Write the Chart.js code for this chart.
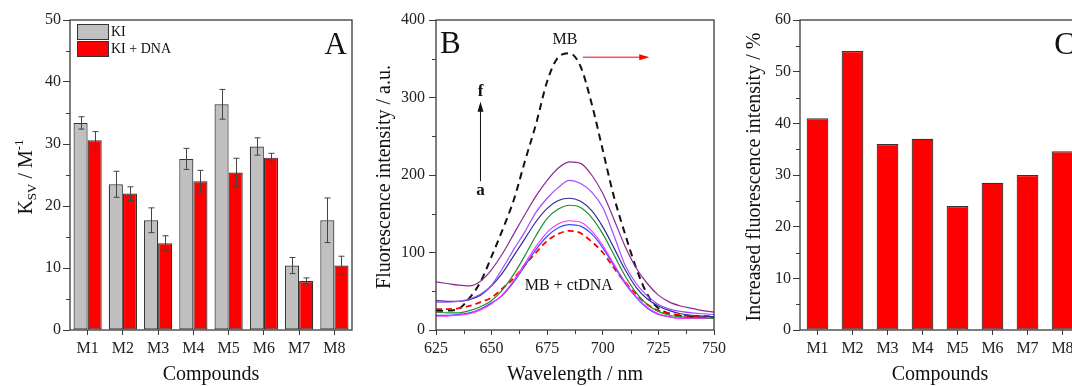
<!DOCTYPE html>
<html>
<head>
<meta charset="utf-8">
<script src="https://cdn.jsdelivr.net/npm/chart.js@4.4.1/dist/chart.umd.min.js"></script>
<style>
  html, body { margin: 0; padding: 0; background: #fff; overflow: hidden; }
  #wrap { position: relative; width: 1072px; height: 386px; overflow: hidden; }
  canvas { position: absolute; top: 0; }
</style>
</head>
<body>
<div id="wrap">
  <canvas id="chartA" width="360" height="386" style="left:0px"></canvas>
  <canvas id="chartB" width="370" height="386" style="left:360px"></canvas>
  <canvas id="chartC" width="360" height="386" style="left:730px"></canvas>
</div>
<script>
// ---- data ----
const compounds = ['M1', 'M2', 'M3', 'M4', 'M5', 'M6', 'M7', 'M8'];

// panel A: Stern-Volmer constants
const ksvKI = [33.4, 23.5, 17.7, 27.6, 36.4, 29.6, 10.4, 17.7];
const ksvKIErr = [1.0, 2.1, 2.0, 1.7, 2.4, 1.4, 1.3, 3.6];
const ksvKIDNA = [30.6, 22.0, 14.0, 24.0, 25.4, 27.8, 7.9, 10.4];
const ksvKIDNAErr = [1.4, 1.1, 1.2, 1.75, 2.3, 0.7, 0.5, 1.5];

// panel B: emission spectra
const wavelengths = [625, 630, 635, 640, 645, 650, 655, 660, 665, 670, 675, 680, 685,
                     690, 695, 700, 705, 710, 715, 720, 725, 730, 735, 740, 745, 750];
const mbFree  = [25, 25, 27, 41, 62, 95, 130, 168, 218, 266, 321, 352, 357, 340, 292, 232, 172, 124, 80, 46, 28, 21, 18, 17, 16, 16];
const mbDNA   = [27, 27, 28, 31, 36, 42, 54, 67, 84, 100, 115, 124, 128, 125, 114, 100, 80, 62, 46, 33, 25, 21, 19, 18, 18, 18];
const specA   = [19, 19, 20, 22, 27, 35, 45, 62, 83, 104, 121, 132, 136, 134, 124, 106, 83, 60, 42, 28, 20, 17, 15, 15, 15, 15];
const specB   = [18, 18, 19, 21, 26, 34, 46, 64, 86, 108, 126, 137, 141, 139, 128, 109, 85, 62, 43, 29, 21, 17, 15, 15, 15, 15];
const specC   = [23, 22, 22, 25, 30, 38, 52, 72, 96, 122, 144, 156, 161, 158, 145, 124, 97, 70, 48, 33, 24, 19, 17, 16, 16, 15];
const specD   = [38, 37, 37, 39, 45, 57, 74, 96, 118, 140, 157, 167, 170, 166, 154, 133, 106, 78, 55, 40, 31, 25, 21, 19, 18, 17];
const specE   = [36, 36, 37, 40, 46, 58, 80, 104, 127, 152, 170, 184, 193, 189, 178, 158, 122, 84, 60, 44, 33, 27, 24, 22, 21, 20];
const specF   = [62, 60, 58, 57, 63, 78, 99, 124, 149, 173, 193, 209, 217, 215, 200, 176, 143, 108, 80, 60, 45, 36, 31, 28, 25, 23];

// panel C: increase of fluorescence
const increasePct = [41.0, 54.0, 36.0, 37.0, 24.0, 28.5, 30.0, 34.6];

// ---- shared style ----
const AXIS = '#3a3a3a';
const FONT = "'Liberation Serif', 'Times New Roman', serif";
Chart.defaults.font.family = FONT;
Chart.defaults.font.size = 16;
Chart.defaults.color = '#222';

// frame around the plot area
const framePlugin = {
  id: 'frame',
  afterDatasetsDraw(chart) {
    const { ctx, chartArea: a } = chart;
    ctx.save();
    ctx.strokeStyle = AXIS;
    ctx.lineWidth = 1.3;
    ctx.strokeRect(a.left, a.top, a.right - a.left, a.bottom - a.top);
    ctx.restore();
  }
};

// short ticks between the labelled ones
const minorTicks = {
  id: 'minorTicks',
  afterDraw(chart, args, opts) {
    const ctx = chart.ctx;
    ctx.save();
    ctx.strokeStyle = AXIS;
    ctx.lineWidth = 1;
    ['x', 'y'].forEach(id => {
      const step = opts[id];
      if (!step) return;
      const s = chart.scales[id];
      const major = s.options.ticks.stepSize;
      for (let v = s.min; v <= s.max + 1e-9; v += step) {
        const r = v / major;
        if (Math.abs(r - Math.round(r)) < 1e-6) continue;
        const p = Math.round(s.getPixelForValue(v)) + 0.5;
        ctx.beginPath();
        if (id === 'y') { ctx.moveTo(s.right - 4, p); ctx.lineTo(s.right, p); }
        else { ctx.moveTo(p, s.top); ctx.lineTo(p, s.top + 4); }
        ctx.stroke();
      }
    });
    ctx.restore();
  }
};

// error bars from dataset.errors
const errorBars = {
  id: 'errorBars',
  afterDatasetsDraw(chart) {
    const ctx = chart.ctx;
    const y = chart.scales.y;
    ctx.save();
    ctx.strokeStyle = '#444';
    ctx.lineWidth = 1;
    chart.data.datasets.forEach((ds, i) => {
      if (!ds.errors) return;
      chart.getDatasetMeta(i).data.forEach((bar, j) => {
        const v = ds.data[j], e = ds.errors[j];
        const t = y.getPixelForValue(v + e), b = y.getPixelForValue(v - e);
        const x = Math.round(bar.x) + 0.5;
        ctx.beginPath();
        ctx.moveTo(x, t); ctx.lineTo(x, b);
        ctx.moveTo(x - 3, t); ctx.lineTo(x + 3, t);
        ctx.moveTo(x - 3, b); ctx.lineTo(x + 3, b);
        ctx.stroke();
      });
    });
    ctx.restore();
  }
};

// legend boxes in the top-left corner of panel A
const boxLegend = {
  id: 'boxLegend',
  afterDraw(chart, args, opts) {
    if (!opts.show) return;
    const { ctx, chartArea: a } = chart;
    ctx.save();
    ctx.font = '14px ' + FONT;
    ctx.textBaseline = 'middle';
    chart.data.datasets.forEach((ds, i) => {
      const x = a.left + 7, y = a.top + 4 + i * 17;
      ctx.fillStyle = ds.backgroundColor;
      ctx.fillRect(x, y, 31, 15);
      ctx.strokeStyle = '#333';
      ctx.lineWidth = 1;
      ctx.strokeRect(x + 0.5, y + 0.5, 31, 15);
      ctx.fillStyle = '#111';
      ctx.fillText(ds.label, x + 34, y + 8);
    });
    ctx.restore();
  }
};

// axis titles and panel letter
function drawRich(ctx, parts, size) {
  const widths = parts.map(p => {
    ctx.font = (p.sub || p.sup ? Math.round(size * 0.65) : size) + 'px ' + FONT;
    return ctx.measureText(p.t).width;
  });
  let x = -widths.reduce((s, w) => s + w, 0) / 2;
  parts.forEach((p, i) => {
    ctx.font = (p.sub || p.sup ? Math.round(size * 0.65) : size) + 'px ' + FONT;
    const dy = p.sub ? size * 0.3 : p.sup ? -size * 0.38 : 0;
    ctx.fillText(p.t, x, dy);
    x += widths[i];
  });
}

const panelText = {
  id: 'panelText',
  afterDraw(chart, args, opts) {
    const { ctx, chartArea: a } = chart;
    ctx.save();
    ctx.fillStyle = '#111';
    ctx.textAlign = 'left';
    ctx.textBaseline = 'middle';
    // x title
    ctx.save();
    ctx.translate((a.left + a.right) / 2, a.bottom + 45);
    drawRich(ctx, [{ t: opts.xTitle }], 20);
    ctx.restore();
    // y title
    ctx.save();
    ctx.translate(a.left - opts.yOffset, (a.top + a.bottom) / 2 + 2);
    ctx.rotate(-Math.PI / 2);
    drawRich(ctx, opts.yTitle, 20);
    ctx.restore();
    // panel letter
    ctx.font = '31px ' + FONT;
    ctx.textBaseline = 'alphabetic';
    if (opts.letterSide === 'left') {
      ctx.textAlign = 'left';
      ctx.fillText(opts.letter, a.left + 4, a.top + 33);
    } else {
      ctx.textAlign = 'right';
      ctx.fillText(opts.letter, a.right - 5, a.top + 34);
    }
    ctx.restore();
  }
};

// notes and arrows placed in data units of panel B
const spectraNotes = {
  id: 'spectraNotes',
  afterDatasetsDraw(chart, args, opts) {
    if (!opts.notes) return;
    const { ctx, scales: { x, y } } = chart;
    ctx.save();
    ctx.textAlign = 'center';
    ctx.textBaseline = 'middle';
    opts.notes.forEach(n => {
      ctx.font = (n.bold ? 'bold ' : '') + n.size + 'px ' + FONT;
      ctx.fillStyle = '#111';
      ctx.fillText(n.text, x.getPixelForValue(n.x), y.getPixelForValue(n.y));
    });
    opts.arrows.forEach(r => {
      const x1 = x.getPixelForValue(r.x1), y1 = y.getPixelForValue(r.y1);
      const x2 = x.getPixelForValue(r.x2), y2 = y.getPixelForValue(r.y2);
      const ang = Math.atan2(y2 - y1, x2 - x1);
      ctx.strokeStyle = r.color; ctx.fillStyle = r.color; ctx.lineWidth = 1;
      ctx.beginPath(); ctx.moveTo(x1, y1); ctx.lineTo(x2, y2); ctx.stroke();
      ctx.beginPath();
      ctx.moveTo(x2 + Math.cos(ang) * 2, y2 + Math.sin(ang) * 2);
      ctx.lineTo(x2 - Math.cos(ang) * 8 - Math.sin(ang) * 3, y2 - Math.sin(ang) * 8 + Math.cos(ang) * 3);
      ctx.lineTo(x2 - Math.cos(ang) * 8 + Math.sin(ang) * 3, y2 - Math.sin(ang) * 8 - Math.cos(ang) * 3);
      ctx.closePath(); ctx.fill();
    });
    ctx.restore();
  }
};

function axes(yMax, yStep, yWidth, yPad, xOpts) {
  return {
    x: Object.assign({
      grid: { drawOnChartArea: false, color: AXIS, tickLength: 5, offset: false },
      border: { display: false },
      ticks: { padding: 4, color: '#222' },
      afterFit: s => { s.height = 56; }
    }, xOpts),
    y: {
      min: 0, max: yMax,
      grid: { drawOnChartArea: false, color: AXIS, tickLength: 7 },
      border: { display: false },
      ticks: { stepSize: yStep, padding: yPad, color: '#222' },
      afterFit: s => { s.width = yWidth; }
    }
  };
}

const basePlugins = {
  legend: { display: false },
  tooltip: { enabled: false }
};

// ---- panel A ----
new Chart(document.getElementById('chartA'), {
  type: 'bar',
  data: {
    labels: compounds,
    datasets: [
      { label: 'KI', data: ksvKI, errors: ksvKIErr, backgroundColor: '#c0c0c0', borderColor: '#333', borderWidth: 1.2, borderSkipped: false },
      { label: 'KI + DNA', data: ksvKIDNA, errors: ksvKIDNAErr, backgroundColor: '#ff0000', borderColor: '#333', borderWidth: 1.2, borderSkipped: false }
    ]
  },
  options: {
    responsive: false, animation: false,
    layout: { padding: { top: 20, right: 8, left: 0, bottom: 0 } },
    datasets: { bar: { categoryPercentage: 0.8, barPercentage: 1.0 } },
    scales: axes(50, 10, 70, 2, {}),
    plugins: Object.assign({}, basePlugins, {
      minorTicks: { y: 5 },
      boxLegend: { show: true },
      panelText: {
        xTitle: 'Compounds', yOffset: 43, letter: 'A', letterSide: 'right',
        yTitle: [{ t: 'K' }, { t: 'SV', sub: true }, { t: ' / M' }, { t: '-1', sup: true }]
      }
    })
  },
  plugins: [errorBars, framePlugin, minorTicks, boxLegend, panelText]
});

// ---- panel B ----
const line = (data, color, dash, width) => ({
  data: data.map((v, i) => ({ x: wavelengths[i], y: v })),
  borderColor: color, borderWidth: width || 1.2, borderDash: dash || [],
  pointRadius: 0, fill: false, cubicInterpolationMode: 'monotone'
});

new Chart(document.getElementById('chartB'), {
  type: 'line',
  data: {
    datasets: [
      line(specF, '#8e2a92'),
      line(specE, '#a24cff'),
      line(specD, '#2e2e96'),
      line(specC, '#1f8f2a'),
      line(specB, '#ff30ff'),
      line(specA, '#2f50ff'),
      line(mbDNA, '#ff0000', [6, 4], 1.8),
      line(mbFree, '#111111', [7, 5], 2)
    ]
  },
  options: {
    responsive: false, animation: false,
    layout: { padding: { top: 20, right: 13, left: 0, bottom: 0 } },
    scales: axes(400, 100, 76, 4, { type: 'linear', min: 625, max: 750, ticks: { stepSize: 25, padding: 4, color: '#222' } }),
    plugins: Object.assign({}, basePlugins, {
      minorTicks: { x: 12.5, y: 50 },
      panelText: {
        xTitle: 'Wavelength / nm', yOffset: 51, letter: 'B', letterSide: 'left',
        yTitle: [{ t: 'Fluorescence intensity / a.u.' }]
      },
      spectraNotes: {
        notes: [
          { text: 'MB', x: 683, y: 375, size: 16 },
          { text: 'MB + ctDNA', x: 684.7, y: 57, size: 16 },
          { text: 'f', x: 645, y: 307, size: 17, bold: true },
          { text: 'a', x: 645, y: 180, size: 17, bold: true }
        ],
        arrows: [
          { x1: 691, y1: 352, x2: 720, y2: 352, color: '#ff0000' },
          { x1: 645, y1: 192, x2: 645, y2: 292, color: '#111' }
        ]
      }
    })
  },
  plugins: [framePlugin, minorTicks, spectraNotes, panelText]
});

// ---- panel C ----
new Chart(document.getElementById('chartC'), {
  type: 'bar',
  data: {
    labels: compounds,
    datasets: [
      { label: 'Increase', data: increasePct, backgroundColor: '#ff0000', borderColor: '#333', borderWidth: 1.2, borderSkipped: false }
    ]
  },
  options: {
    responsive: false, animation: false,
    layout: { padding: { top: 20, right: 10, left: 0, bottom: 0 } },
    datasets: { bar: { categoryPercentage: 0.62, barPercentage: 1.0 } },
    scales: axes(60, 10, 70, 2, {}),
    plugins: Object.assign({}, basePlugins, {
      minorTicks: { y: 5 },
      panelText: {
        xTitle: 'Compounds', yOffset: 45, letter: 'C', letterSide: 'right',
        yTitle: [{ t: 'Increased fluorescence intensity / %' }]
      }
    })
  },
  plugins: [framePlugin, minorTicks, panelText]
});
</script>
</body>
</html>
